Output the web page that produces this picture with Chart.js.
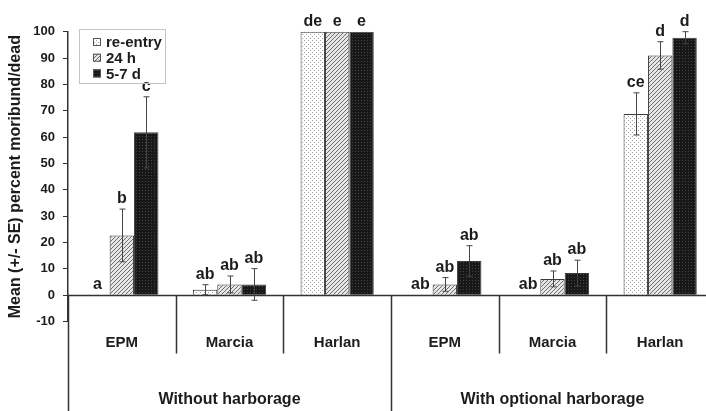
<!DOCTYPE html>
<html>
<head>
<meta charset="utf-8">
<script src="https://cdn.jsdelivr.net/npm/chart.js@4.4.0/dist/chart.umd.min.js"></script>
<style>
  html, body { margin: 0; padding: 0; background: #fff; overflow: hidden; }
  canvas { display: block; }
</style>
</head>
<body>
<canvas id="mortChart" width="714" height="411"></canvas>
<script>
// --- Data ---
const categories = ["EPM", "Marcia", "Harlan", "EPM", "Marcia", "Harlan"];
const groups = ["Without harborage", "With optional harborage"];
const seriesNames = ["re-entry", "24 h", "5-7 d"];

const reEntry = [0, 2.1, 100, 0, 0, 68.8];
const h24 = [22.7, 4.1, 100, 4.1, 6.2, 91];
const d57 = [61.8, 4.1, 100, 13, 8.4, 97.7];

const reEntrySE = [0, 1.9, 0, 0, 0, 8];
const h24SE = [10, 3.2, 0, 2.6, 3, 5.2];
const d57SE = [13.5, 6, 0, 5.8, 4.9, 2.3];

const reEntryLetters = ["a", "ab", "de", "ab", "ab", "ce"];
const h24Letters = ["b", "ab", "e", "ab", "ab", "d"];
const d57Letters = ["c", "ab", "e", "ab", "ab", "d"];

const yMin = -10, yMax = 100, yStep = 10;

const FONT = "'Liberation Sans', Arial, sans-serif";
const INK = "#1c1c1c";
const LINE = "#333";

// --- Fill patterns ---
const canvas = document.getElementById("mortChart");
const ctx = canvas.getContext("2d");

function makePattern(size, draw) {
  const c = document.createElement("canvas");
  c.width = size;
  c.height = size;
  const g = c.getContext("2d");
  draw(g, size);
  return ctx.createPattern(c, "repeat");
}

const dotFill = makePattern(4, (g) => {
  g.fillStyle = "#fff";
  g.fillRect(0, 0, 4, 4);
  g.fillStyle = "#a0a0a0";
  g.fillRect(0, 0, 1, 1);
  g.fillRect(2, 2, 1, 1);
});

const hatchFill = makePattern(4, (g) => {
  g.fillStyle = "#e6e6e6";
  g.fillRect(0, 0, 4, 4);
  g.strokeStyle = "#6e6e6e";
  g.lineWidth = 1;
  g.beginPath();
  g.moveTo(0, 4); g.lineTo(4, 0);
  g.moveTo(-1, 1); g.lineTo(1, -1);
  g.moveTo(3, 5); g.lineTo(5, 3);
  g.stroke();
});

const darkFill = makePattern(3, (g) => {
  g.fillStyle = "#181818";
  g.fillRect(0, 0, 3, 3);
  g.fillStyle = "#444";
  g.fillRect(1, 1, 1, 1);
});

const fills = [dotFill, hatchFill, darkFill];
const errors = [reEntrySE, h24SE, d57SE];
const letters = [reEntryLetters, h24Letters, d57Letters];

// --- Plugins ---
const errorBars = {
  id: "errorBars",
  afterDatasetsDraw(chart) {
    const y = chart.scales.y;
    const c = chart.ctx;
    c.save();
    c.strokeStyle = "#444";
    c.lineWidth = 1;
    chart.data.datasets.forEach((ds, i) => {
      chart.getDatasetMeta(i).data.forEach((bar, j) => {
        const se = errors[i][j];
        if (!se) return;
        const top = y.getPixelForValue(ds.data[j] + se);
        const bot = y.getPixelForValue(ds.data[j] - se);
        const x = Math.round(bar.x) + 0.5;
        c.beginPath();
        c.moveTo(x, top); c.lineTo(x, bot);
        c.moveTo(x - 3, top); c.lineTo(x + 3, top);
        c.moveTo(x - 3, bot); c.lineTo(x + 3, bot);
        c.stroke();
      });
    });
    c.restore();
  }
};

const letterLabels = {
  id: "letterLabels",
  afterDatasetsDraw(chart) {
    const y = chart.scales.y;
    const c = chart.ctx;
    c.save();
    c.font = `bold 16px ${FONT}`;
    c.fillStyle = INK;
    c.textAlign = "center";
    c.textBaseline = "alphabetic";
    chart.data.datasets.forEach((ds, i) => {
      chart.getDatasetMeta(i).data.forEach((bar, j) => {
        const top = y.getPixelForValue(ds.data[j] + errors[i][j]);
        c.fillText(letters[i][j], bar.x, top - 6);
      });
    });
    c.restore();
  }
};

const frameLines = {
  id: "frameLines",
  afterDatasetsDraw(chart) {
    const {ctx: c, chartArea, scales} = chart;
    const x = scales.x;
    const zero = Math.round(scales.y.getPixelForValue(0)) + 0.5;
    const perGroup = categories.length / groups.length;
    c.save();
    c.strokeStyle = LINE;
    c.lineWidth = 1.5;
    c.beginPath();
    c.moveTo(chartArea.left, zero);
    c.lineTo(chartArea.right, zero);
    for (let i = 0; i <= categories.length; i++) {
      let px;
      if (i === 0) px = chartArea.left;
      else if (i === categories.length) px = chartArea.right;
      else px = (x.getPixelForValue(i - 1) + x.getPixelForValue(i)) / 2;
      px = Math.round(px) + 0.5;
      const bottom = i % perGroup === 0 ? chart.height : zero + 58;
      c.moveTo(px, zero);
      c.lineTo(px, bottom);
    }
    c.stroke();
    c.restore();
  }
};

const boxLegend = {
  id: "boxLegend",
  afterDraw(chart) {
    const c = chart.ctx;
    c.save();
    c.strokeStyle = "#c4c4c4";
    c.lineWidth = 1;
    c.strokeRect(79.5, 29.5, 86, 54);
    c.font = `bold 15px ${FONT}`;
    c.fillStyle = INK;
    c.textBaseline = "middle";
    seriesNames.forEach((name, i) => {
      const cy = 42 + i * 15.7;
      c.fillStyle = fills[i];
      c.fillRect(93, cy - 4, 8, 8);
      c.strokeStyle = "#555";
      c.strokeRect(93.5, cy - 3.5, 7, 7);
      c.fillStyle = INK;
      c.fillText(name, 106, cy + 1);
    });
    c.restore();
  }
};

// --- Chart ---
Chart.defaults.font.family = FONT;
Chart.defaults.font.weight = "bold";
Chart.defaults.color = INK;

new Chart(ctx, {
  type: "bar",
  data: {
    labels: categories,
    datasets: seriesNames.map((name, i) => ({
      label: name,
      data: [reEntry, h24, d57][i],
      backgroundColor: fills[i],
      borderColor: "#3a3a3a",
      borderWidth: 1,
      categoryPercentage: 0.68,
      barPercentage: 1.0
    }))
  },
  options: {
    responsive: false,
    animation: false,
    layout: { padding: { top: 31.7, right: 0, bottom: 0, left: 0 } },
    plugins: {
      legend: { display: false },
      tooltip: { enabled: false }
    },
    scales: {
      x: {
        weight: 0,
        grid: { display: false, drawTicks: false },
        border: { display: false },
        ticks: { font: { size: 15, weight: "bold" }, padding: 12, color: INK },
        afterFit: (s) => { s.height = 40; }
      },
      x2: {
        axis: "x",
        type: "category",
        labels: groups,
        position: "bottom",
        offset: true,
        weight: 1,
        grid: { display: false, drawTicks: false },
        border: { display: false },
        ticks: { font: { size: 16, weight: "bold" }, padding: 28, color: INK },
        afterFit: (s) => { s.height = 49.4; }
      },
      y: {
        min: yMin,
        max: yMax,
        ticks: { stepSize: yStep, padding: 8, font: { size: 13, weight: "bold" }, color: INK },
        grid: { drawOnChartArea: false, drawTicks: true, tickLength: 5, color: LINE },
        border: { display: true, color: LINE, width: 1.5 },
        title: {
          display: true,
          text: "Mean (+/- SE) percent moribund/dead",
          font: { size: 16, weight: "bold" },
          color: INK,
          padding: { top: 6, bottom: 0 }
        },
        afterFit: (s) => { s.width = 68; }
      }
    }
  },
  plugins: [frameLines, errorBars, letterLabels, boxLegend]
});
</script>
</body>
</html>
